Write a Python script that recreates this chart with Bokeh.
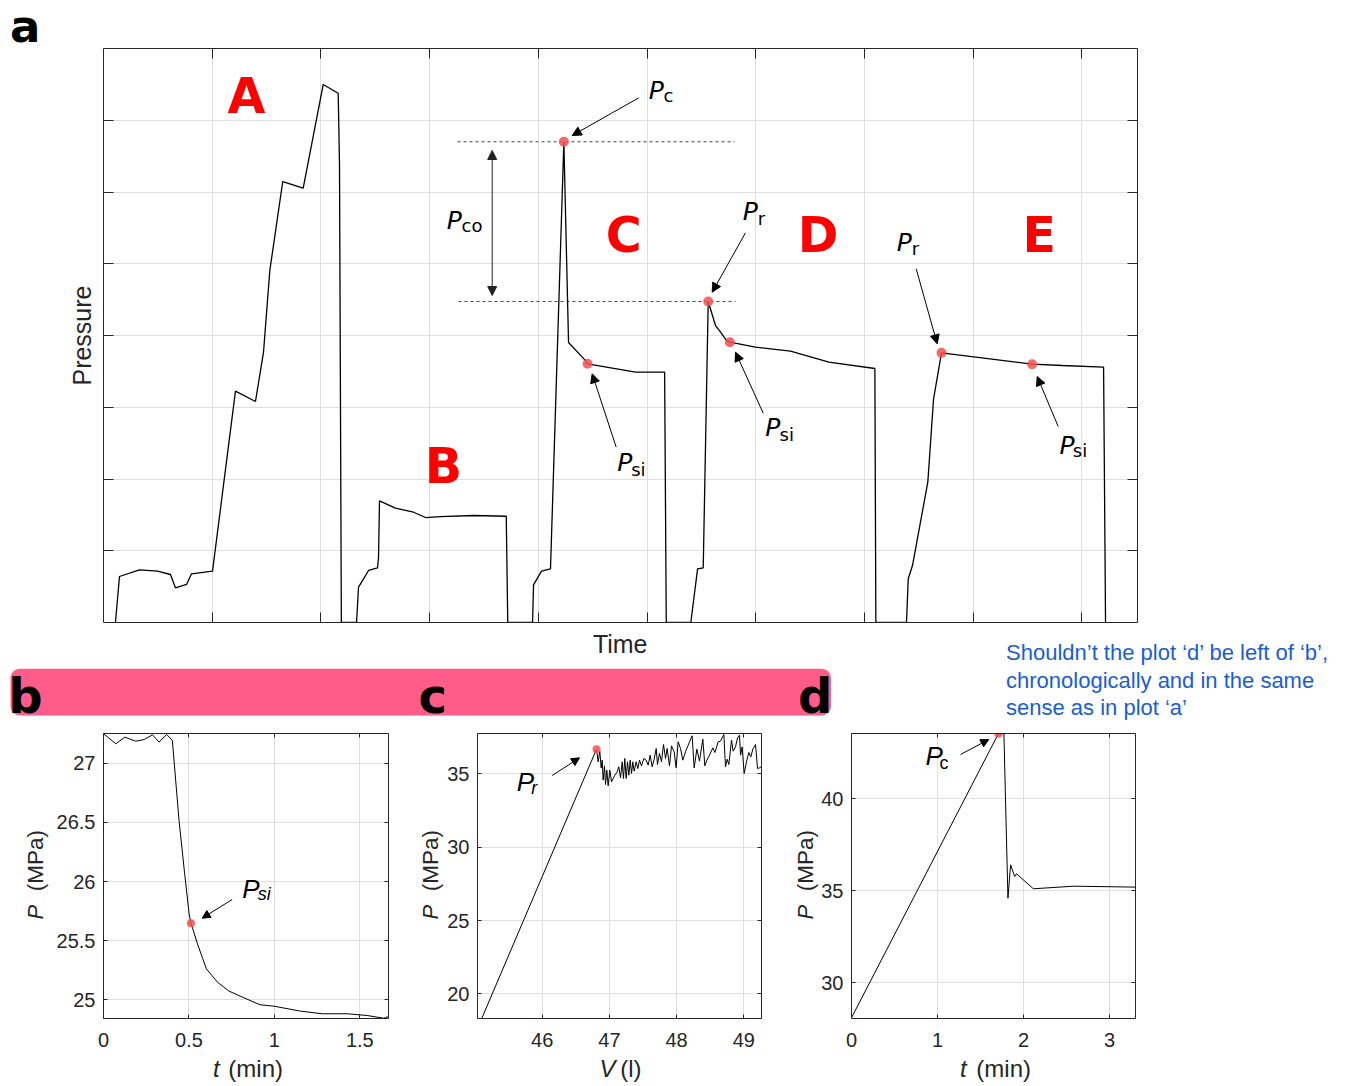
import math
from bokeh.plotting import figure
from bokeh.models import Range1d, LinearAxis, Label, Arrow, NormalHead, FixedTicker
from bokeh.layouts import column, row
from bokeh.embed import file_html
from bokeh.resources import INLINE

# ---------------------------------------------------------------- data
# panel a : pressure history (arbitrary units, 1 unit = 1 grid division)
a_time = [0.110, 0.147, 0.331, 0.497, 0.616, 0.662, 0.764, 0.810, 1.003, 1.214,
          1.398, 1.472, 1.530, 1.649, 1.837, 2.021, 2.159, 2.171, 2.188, 2.328,
          2.346, 2.438, 2.521, 2.530, 2.539, 2.686, 2.852, 2.962, 3.100, 3.404,
          3.705, 3.719, 3.947, 3.956, 4.029, 4.112, 4.235, 4.278, 4.428, 4.453,
          4.895, 5.162, 5.177, 5.403, 5.465, 5.517, 5.563, 5.630, 5.661, 5.732,
          5.762, 5.998, 6.320, 6.673, 7.096, 7.105, 7.387, 7.403, 7.442, 7.583,
          7.636, 7.709, 8.543, 8.819, 9.200, 9.218]
a_pressure = [0.000, 0.641, 0.734, 0.715, 0.669, 0.484, 0.530, 0.679, 0.715, 3.224,
              3.080, 3.767, 4.906, 6.146, 6.053, 7.498, 7.377, 6.400, 0.000, 0.000,
              0.492, 0.725, 0.762, 0.910, 1.696, 1.593, 1.537, 1.463, 1.477, 1.491,
              1.481, 0.000, 0.000, 0.525, 0.715, 0.748, 6.700, 3.902, 3.661, 3.606,
              3.489, 3.489, 0.000, 0.000, 0.748, 0.762, 4.474, 4.139, 4.079, 3.930,
              3.907, 3.837, 3.781, 3.628, 3.540, 0.000, 0.000, 0.609, 0.794, 1.955,
              3.118, 3.759, 3.600, 3.582, 3.558, 0.000]
a_key_time = [4.235, 4.453, 5.563, 5.762, 7.709, 8.543]
a_key_pressure = [6.700, 3.606, 4.474, 3.907, 3.759, 3.600]
a_stage_names = ["A", "B", "C", "D", "E"]
a_xticks = [1, 2, 3, 4, 5, 6, 7, 8, 9]
a_yticks = [1, 2, 3, 4, 5, 6, 7]

# panel b : stress relaxation after shut-in
b_time = [0.000, 0.072, 0.125, 0.189, 0.238, 0.287, 0.325, 0.370, 0.403, 0.442,
          0.475, 0.501, 0.512, 0.550, 0.602, 0.667, 0.735, 0.822, 0.916, 0.998,
          1.154, 1.281, 1.427, 1.544, 1.641, 1.668]
b_pressure = [27.249, 27.164, 27.220, 27.186, 27.200, 27.240, 27.178, 27.243, 27.192, 26.516,
              26.065, 25.727, 25.648, 25.473, 25.262, 25.149, 25.073, 25.017, 24.958, 24.946,
              24.904, 24.882, 24.882, 24.867, 24.844, 24.859]
b_key = (0.512, 25.648)
b_xticks = [0, 0.5, 1, 1.5]
b_xlabels = ["0", "0.5", "1", "1.5"]
b_yticks = [25, 25.5, 26, 26.5, 27]
b_ylabels = ["25", "25.5", "26", "26.5", "27"]

# panel c : pressure vs injected volume
c_volume = [45.100, 46.808, 46.832, 46.857, 46.877, 46.892, 46.907, 46.927, 46.942, 46.961,
            46.981, 47.006, 47.031, 47.081, 47.115, 47.140, 47.165, 47.190, 47.209, 47.229,
            47.249, 47.269, 47.289, 47.309, 47.329, 47.348, 47.368, 47.398, 47.423, 47.448,
            47.477, 47.512, 47.547, 47.577, 47.606, 47.636, 47.666, 47.696, 47.715, 47.745,
            47.775, 47.805, 47.835, 47.859, 47.894, 47.924, 47.963, 47.993, 48.023, 48.058,
            48.092, 48.132, 48.172, 48.192, 48.231, 48.261, 48.301, 48.340, 48.390, 48.420,
            48.450, 48.489, 48.539, 48.569, 48.618, 48.653, 48.703, 48.727, 48.752, 48.777,
            48.817, 48.841, 48.876, 48.906, 48.936, 48.951, 48.975, 49.005, 49.045, 49.075,
            49.104, 49.134, 49.174, 49.204, 49.233, 49.258]
c_pressure = [18.320, 36.679, 35.816, 36.543, 35.407, 35.929, 34.566, 35.543, 34.271, 35.248,
              34.180, 35.248, 34.452, 34.907, 35.134, 35.475, 34.725, 35.816, 34.680, 36.043,
              34.680, 35.816, 34.907, 35.929, 35.021, 35.816, 35.180, 35.816, 35.361, 35.929,
              35.543, 36.043, 35.929, 35.589, 36.270, 35.475, 35.998, 36.725, 35.634, 36.384,
              35.816, 36.997, 36.043, 36.725, 35.543, 36.906, 36.497, 35.407, 37.179, 36.725,
              35.929, 36.497, 36.952, 37.179, 37.588, 35.407, 36.679, 35.861, 37.361, 35.543,
              35.929, 36.270, 36.770, 36.452, 37.179, 37.225, 37.679, 35.475, 35.998, 35.634,
              37.293, 36.543, 36.838, 37.452, 37.634, 36.270, 36.838, 35.021, 35.929, 36.452,
              36.157, 36.679, 36.997, 35.361, 35.407, 35.475]
c_key = (46.808, 36.679)
c_xticks = [46, 47, 48, 49]
c_xlabels = ["46", "47", "48", "49"]
c_yticks = [20, 25, 30, 35]
c_ylabels = ["20", "25", "30", "35"]

# panel d : breakdown cycle
d_time = [0.000, 1.707, 1.772, 1.819, 1.850, 1.897, 1.920, 2.114, 2.585, 3.302]
d_pressure = [28.100, 43.530, 43.530, 34.600, 36.410, 35.780, 35.920, 35.110, 35.250, 35.200]
d_key = (1.707, 43.530)
d_xticks = [0, 1, 2, 3]
d_xlabels = ["0", "1", "2", "3"]
d_yticks = [30, 35, 40]
d_ylabels = ["30", "35", "40"]

comment_lines = ["Shouldn\u2019t the plot \u2018d\u2019 be left of \u2018b\u2019,",
                 "chronologically and in the same",
                 "sense as in plot \u2018a\u2019"]

# ---------------------------------------------------------------- style
INK = "#262626"
GRID = "#dfdfdf"
DOT = "#f25050"
RED = "#ff0000"
PINK = "#ff5c8a"
BLUE = "#1a5dd6"
SANS = "Liberation Sans"
DJV = "DejaVu Sans"
MID = 0.347   # distance baseline -> middle of the text box, in em
UP = math.pi / 2


class Geo:
    """maps page pixels to data coordinates of one frame"""
    def __init__(self, L, T, R, B, x0, x1, y0, y1):
        self.L, self.T, self.R, self.B = L, T, R, B
        self.x0, self.x1, self.y0, self.y1 = x0, x1, y0, y1

    def x(self, px):
        return self.x0 + (px - self.L) / (self.R - self.L) * (self.x1 - self.x0)

    def y(self, py):
        return self.y0 + (self.B - py) / (self.B - self.T) * (self.y1 - self.y0)


def make_fig(w, h, g, l, r, t, b):
    f = figure(width=w, height=h, x_range=Range1d(g.x0, g.x1), y_range=Range1d(g.y0, g.y1),
               output_backend="svg", toolbar_location=None,
               min_border_left=l, min_border_right=r, min_border_top=t, min_border_bottom=b)
    f.outline_line_color = None
    f.background_fill_color = "white"
    f.border_fill_color = "white"
    return f


def add_axes(f, xticks, yticks, tick_in, xlabels=None, ylabels=None, font_px=20, sx=14, sy=8,
             ytitle=None, yt_standoff=5, title_px=23):
    top = LinearAxis()
    right = LinearAxis()
    f.add_layout(top, "above")
    f.add_layout(right, "right")
    bottom = f.below[0]
    left = f.left[0]
    for ax, ticks, labels, standoff, title, tstand in [
            (bottom, xticks, xlabels, sx, None, 0), (top, xticks, None, 0, None, 0),
            (left, yticks, ylabels, sy, ytitle, yt_standoff), (right, yticks, None, 0, None, 0)]:
        ax.ticker = FixedTicker(ticks=ticks)
        ax.major_tick_in = tick_in
        ax.major_tick_out = 0
        ax.minor_tick_in = 0
        ax.minor_tick_out = 0
        ax.axis_line_color = INK
        ax.axis_line_width = 1
        ax.major_tick_line_color = INK
        ax.major_tick_line_width = 1
        ax.major_label_standoff = standoff
        if labels is None:
            ax.major_label_overrides = {t: "" for t in ticks}
            ax.major_label_text_font_size = "0px"
        else:
            ax.major_label_overrides = dict(zip(ticks, labels))
            ax.major_label_text_font_size = f"{font_px}px"
            ax.major_label_text_font = SANS
            ax.major_label_text_color = INK
        if title is None:
            ax.axis_label = None
        else:
            ax.axis_label = title
            ax.axis_label_standoff = tstand
            ax.axis_label_text_font = SANS
            ax.axis_label_text_font_size = f"{title_px}px"
            ax.axis_label_text_font_style = "normal"
            ax.axis_label_text_color = INK
    f.xgrid.ticker = FixedTicker(ticks=xticks)
    f.ygrid.ticker = FixedTicker(ticks=yticks)
    f.grid.grid_line_color = GRID
    f.grid.grid_line_width = 1


def lab(f, g, px, py, text, size, font=SANS, style="normal", color=INK, align="left",
        angle=0.0, place=None):
    """text anchored at page pixel (px, py) on its baseline (rotated: baseline at x=px)"""
    if angle:
        x, y = g.x(px - MID * size), g.y(py)
    else:
        x, y = g.x(px), g.y(py - MID * size)
    label = Label(x=x, y=y, text=text, text_font=font, text_font_size=f"{size}px",
                  text_font_style=style, text_color=color, text_align=align,
                  text_baseline="middle", angle=angle)
    if place is None:
        f.add_layout(label)
    else:
        f.add_layout(label, place)


def arrow(f, g, x0, y0, x1, y1, size=9, both=False, color="black", width=1.0):
    head = dict(size=size, fill_color=color, line_color=color, line_width=1)
    f.add_layout(Arrow(x_start=g.x(x0), y_start=g.y(y0), x_end=g.x(x1), y_end=g.y(y1),
                       end=NormalHead(**head), start=NormalHead(**head) if both else None,
                       line_color=color, line_width=width))


def p_label(f, g, px, py, sub, spx, spy, size, subsize, font, sub_style):
    lab(f, g, px - 1, py, "P", size, font=font, style="italic", color="black")
    lab(f, g, spx - 1, spy, sub, subsize, font=font, style=sub_style, color="black")


def axis_titles(f, g, var, unit, x_start, x_end, base, var_place, unit_place,
                yb, p_place, mpa_place):
    """italic symbol + upright unit, for the x axis and for the rotated y axis"""
    lab(f, g, x_start, base, var, 24, style="italic", place=var_place)
    lab(f, g, x_end, base, unit, 24, align="right", place=unit_place)
    lab(f, g, yb, 919, "P", 22, style="italic", angle=UP, place=p_place)
    lab(f, g, yb, 829.5, "(MPa)", 22.5, align="right", angle=UP, place=mpa_place)


# ---------------------------------------------------------------- panel a
GA = Geo(103, 48, 1137, 622, 0, 9.512, 0, 8)
fa = make_fig(1352, 628, GA, 103, 215, 48, 6)
add_axes(fa, a_xticks, a_yticks, 10, ytitle="Pressure", yt_standoff=8, title_px=25)

for lvl, x0, x1 in [(a_key_pressure[0], 457, 734), (a_key_pressure[2], 458, 735)]:
    fa.line(x=[GA.x(x0), GA.x(x1)], y=[lvl, lvl], line_color="#444444", line_width=1,
            line_dash="3 3")
arrow(fa, GA, 491.7, 150, 491.7, 295, size=9, both=True, color="#222222")

fa.line(a_time, a_pressure, line_color="black", line_width=1.3)
fa.scatter(a_key_time, a_key_pressure, size=10, fill_color=DOT, fill_alpha=0.85,
           line_color=None)

for (sx0, sy0, ex, ey) in [(638.3, 97.3, 571.7, 135), (745, 232.3, 711.7, 291.7),
                           (615.7, 446.7, 591.7, 373.3), (762.7, 412.7, 735, 351.7),
                           (915.7, 268.3, 936.7, 343.3), (1057.7, 426, 1036.7, 376)]:
    arrow(fa, GA, sx0, sy0, ex, ey, size=9)

for (px, py, sub, spx, spy) in [(649.3, 98.3, "c", 664, 101.7), (447.3, 228.3, "co", 462, 231.7),
                                (743.3, 220, "r", 758.3, 224.3), (617.7, 470.7, "si", 631.7, 475),
                                (765.7, 436, "si", 780, 440), (897.3, 250.7, "r", 912.3, 254),
                                (1060, 453.3, "si", 1073.3, 456.7)]:
    p_label(fa, GA, px, py, sub, spx, spy, 25, 18, DJV, "normal")

for name, cx, base in zip(a_stage_names, [246, 443, 623.3, 817.7, 1038.7],
                          [113.3, 483.3, 252, 252, 252]):
    lab(fa, GA, cx, base, name, 49, font=DJV, style="bold", color=RED, align="center")

# panel letter, kept in a side panel so that it is not clipped by the frame
lab(fa, GA, 9.5, 41.5, "a", 45, font=DJV, style="bold", color="black", place="right")

# ---------------------------------------------------------------- middle strip
GM = Geo(0, 628, 1352, 724, 0, 1352, 724, 628)
fm = figure(width=1352, height=96, x_range=Range1d(0, 1352), y_range=Range1d(724, 628),
            x_axis_type=None, y_axis_type=None, output_backend="svg", toolbar_location=None,
            min_border_left=0, min_border_right=0, min_border_top=0, min_border_bottom=0)
fm.outline_line_color = None
fm.patch(x=[19, 821.5, 821.5, 19], y=[677.3, 677.3, 706, 706], fill_color=PINK,
         line_color=PINK, line_width=18, line_join="round")
lab(fm, GM, 619.7, 651.7, "Time", 25, align="center")
for letter, x in [("b", 7.7), ("c", 418), ("d", 797.4)]:
    lab(fm, GM, x, 711.7, letter, 48, font=DJV, style="bold", color="black")
for line, base in zip(comment_lines, [660, 687.3, 714.3]):
    lab(fm, GM, 1005.5, base, line, 22, color=BLUE)

# ---------------------------------------------------------------- panel b
GB = Geo(103, 733, 388, 1018, 0, 1.668, 24.842, 27.251)
fb = make_fig(400, 362, GB, 103, 12, 9, 68)
add_axes(fb, b_xticks, b_yticks, 4, b_xlabels, b_ylabels)
fb.line(b_time, b_pressure, line_color="black", line_width=1)
fb.scatter([b_key[0]], [b_key[1]], size=8, fill_color=DOT, fill_alpha=0.85, line_color=None)
arrow(fb, GB, 231.7, 899, 201.7, 917.7, size=8)
p_label(fb, GB, 242.7, 897.3, "si", 258.3, 900, 26, 18, SANS, "italic")
axis_titles(fb, GB, "t", "(min)", 212.5, 282.5, 1076.7, "right", "below", 43, "left", "left")

# ---------------------------------------------------------------- panel c
GC = Geo(477, 733, 761, 1018, 45.037, 49.263, 18.320, 37.747)
fc = make_fig(389, 362, GC, 77, 28, 9, 68)
add_axes(fc, c_xticks, c_yticks, 4, c_xlabels, c_ylabels)
fc.line(c_volume, c_pressure, line_color="black", line_width=1)
fc.scatter([c_key[0]], [c_key[1]], size=8, fill_color=DOT, fill_alpha=0.85, line_color=None)
arrow(fc, GC, 551.7, 775, 579, 757.3, size=8)
p_label(fc, GC, 517.3, 790.7, "r", 531.7, 794, 26, 18, SANS, "italic")
axis_titles(fc, GC, "V", "(l)", 599, 641, 1076.7, "left", "below", 438, "right", "left")

# ---------------------------------------------------------------- panel d
GD = Geo(851, 733, 1135, 1018, 0, 3.302, 28.060, 43.549)
fd = make_fig(563, 362, GD, 62, 217, 9, 68)
add_axes(fd, d_xticks, d_yticks, 4, d_xlabels, d_ylabels)
fd.line(d_time, d_pressure, line_color="black", line_width=1)
fd.scatter([d_key[0]], [d_key[1]], size=8, fill_color=DOT, fill_alpha=0.85, line_color=None)
arrow(fd, GD, 960, 754, 988.3, 739, size=8)
p_label(fd, GD, 926, 765, "c", 940, 768.3, 26, 18, SANS, "normal")
axis_titles(fd, GD, "t", "(min)", 959.5, 1030.5, 1076.7, "right", "below", 813, "right", "right")

layout = column(fa, row(fm), row(fb, fc, fd))
open("out.html", "w").write(file_html(layout, INLINE))
